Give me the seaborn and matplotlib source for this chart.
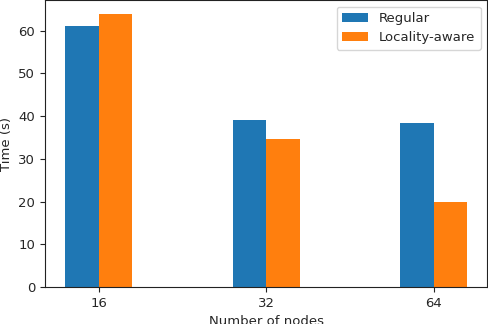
import pandas as pd
import seaborn as sns
import matplotlib
matplotlib.use("Agg")
import matplotlib.pyplot as plt

# values
nodes = ["16", "32", "64"]
regular = [61.2, 39.2, 38.3]
locality_aware = [64.0, 34.6, 19.9]
methods = ["Regular", "Locality-aware"]

df = pd.DataFrame({
    "nodes": nodes * 2,
    "time": regular + locality_aware,
    "method": [methods[0]] * 3 + [methods[1]] * 3,
})

sns.set_style("white")
plt.rcParams["font.family"] = ["DejaVu Sans"]
plt.rcParams["axes.edgecolor"] = "#222222"

fig = plt.figure(figsize=(4.88, 3.24), dpi=100)
ax = fig.add_axes([0.0922, 0.114, 0.906, 0.886])

sns.barplot(data=df, x="nodes", y="time", hue="method",
            palette=["#1f77b4", "#ff7f0e"], saturation=1,
            width=0.4, linewidth=0, ax=ax)

ax.set_xlim(-0.32, 2.32)
ax.set_ylim(0, 67.2)
ax.set_yticks([0, 10, 20, 30, 40, 50, 60])
ax.set_xlabel("Number of nodes", fontsize=9.5)
ax.set_ylabel("Time (s)", fontsize=9.5)
ax.tick_params(axis="both", labelsize=9.5, length=3.5, color="#222222",
               bottom=True, left=True)

ax.legend(title=None, loc="upper right", fontsize=9.5)

for s in ax.spines.values():
    s.set_visible(True)
    s.set_linewidth(0.8)

fig.savefig("out.png", dpi=100)
